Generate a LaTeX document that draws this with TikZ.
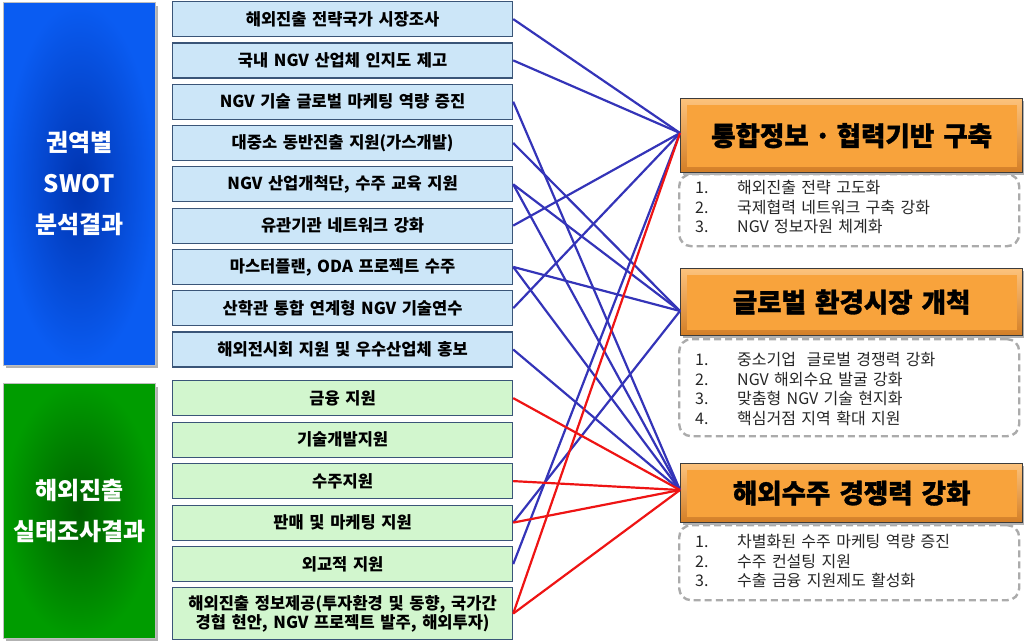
\documentclass[tikz,border=0pt]{standalone}
\usepackage{fontspec}
\setmainfont{Noto Sans CJK KR}[WordSpace=1.5]
\newfontfamily\titlefont{Noto Sans CJK KR}[WordSpace=1.5,BoldFeatures={FakeBold=1.2}]
\definecolor{midblue}{HTML}{CCE6F8}
\definecolor{midgreen}{HTML}{D2F6CE}
\definecolor{midborder}{HTML}{3A5578}
\definecolor{lineblue}{HTML}{3434B8}
\definecolor{linered}{HTML}{EE1414}
\definecolor{orangefill}{HTML}{F8A33C}
\definecolor{orangelight}{HTML}{FCC27C}
\definecolor{orangedark}{HTML}{D37E26}
\definecolor{orangeborder}{HTML}{3C3C3C}
\definecolor{bluehi}{HTML}{0A5CF2}
\definecolor{bluelo}{HTML}{0034B0}
\definecolor{greenhi}{HTML}{009C00}
\definecolor{greenlo}{HTML}{005F00}
\definecolor{dashgray}{HTML}{ABABAB}
\tikzset{
  midbox/.style={draw=midborder, line width=1.2pt, minimum width=340pt, minimum height=35pt,
    inner sep=0pt, anchor=north west, align=center, text=black,
    font=\bfseries\fontsize{16.5}{19}\selectfont},
  bluebox/.style={midbox, fill=midblue},
  greenbox/.style={midbox, fill=midgreen},
  sidebox/.style={shade, shading=radial, draw=black!25, line width=0.6pt, minimum width=152pt,
    inner sep=0pt, anchor=north west, align=center, text=white,
    font=\bfseries\fontsize{24}{41}\selectfont},
  orangebox/.style={shade, top color=orangelight, bottom color=orangedark, draw=orangeborder,
    line width=1.3pt, minimum width=342pt, inner sep=0pt, anchor=north west,
    font=\titlefont\bfseries\fontsize{26.5}{30}\selectfont, text=black,
    path picture={\fill[orangefill] ([shift={(6,6)}]path picture bounding box.north west)
      rectangle ([shift={(-6,-6)}]path picture bounding box.south east);}},
  dashbox/.style={draw=dashgray, line width=2.4pt, dash pattern=on 7pt off 4pt,
    rounded corners=12pt, minimum width=340pt, inner sep=0pt, anchor=north west},
  listtext/.style={anchor=north west, inner sep=0pt, text=black!85,
    font=\fontsize{16}{19.5}\selectfont},
  shadowfill/.style={fill=black!30},
  blueline/.style={draw=lineblue, line width=2.2pt},
  redline/.style={draw=linered, line width=2.2pt}
}
\begin{document}
\begin{tikzpicture}[x=1pt,y=-1pt]
\useasboundingbox (0,0) rectangle (1024,643);
% side boxes
\fill[shadowfill] (6,6) rectangle (158,368);
\fill[shadowfill] (6,387) rectangle (158,641);
\node[sidebox, inner color=bluelo, outer color=bluehi, minimum height=363pt] (sb) at (3,2)
  {권역별\\SWOT\\분석결과};
\node[sidebox, inner color=greenlo, outer color=greenhi, minimum height=255pt] (sg) at (3,383)
  {해외진출\\실태조사결과};
% middle boxes
\node[bluebox] (m1) at (172,1) {해외진출 전략국가 시장조사};
\node[bluebox] (m2) at (172,42.3) {국내 NGV 산업체 인지도 제고};
\node[bluebox] (m3) at (172,83.6) {NGV 기술 글로벌 마케팅 역량 증진};
\node[bluebox] (m4) at (172,124.9) {대중소 동반진출 지원(가스개발)};
\node[bluebox] (m5) at (172,166.2) {NGV 산업개척단, 수주 교육 지원};
\node[bluebox] (m6) at (172,207.5) {유관기관 네트워크 강화};
\node[bluebox] (m7) at (172,248.8) {마스터플랜, ODA 프로젝트 수주};
\node[bluebox] (m8) at (172,290.1) {산학관 통합 연계형 NGV 기술연수};
\node[bluebox] (m9) at (172,331.4) {해외전시회 지원 및 우수산업체 홍보};
\node[greenbox] (m10) at (172,380) {금융 지원};
\node[greenbox] (m11) at (172,421.5) {기술개발지원};
\node[greenbox] (m12) at (172,463) {수주지원};
\node[greenbox] (m13) at (172,504.5) {판매 및 마케팅 지원};
\node[greenbox] (m14) at (172,546) {외교적 지원};
\node[greenbox, minimum height=52pt] (m15) at (172,587)
  {해외진출 정보제공(투자환경 및 동향, 국가간\\경협 현안, NGV 프로젝트 발주, 해외투자)};
% dashed boxes
\node[dashbox, minimum height=72pt] (d1) at (678,173) {};
\node[dashbox, minimum height=97pt] (d2) at (678,338) {};
\node[dashbox, minimum height=75pt] (d3) at (678,524) {};
% orange boxes
\fill[shadowfill] (683,101) rectangle (1024,175);
\fill[shadowfill] (683,271) rectangle (1024,338);
\fill[shadowfill] (683,466) rectangle (1024,525);
\node[orangebox, minimum height=74pt] (o1) at (680,98)
  {통합정보\hspace{8pt}\makebox[12pt]{·}\hspace{8pt}협력기반 구축};
\node[orangebox, minimum height=67pt] (o2) at (680,268) {글로벌 환경시장 개척};
\node[orangebox, minimum height=59pt] (o3) at (680,463) {해외수주 경쟁력 강화};
% list texts
\node[listtext] (l1) at (695,180) {\begin{tabular}{@{}p{42pt}@{}l@{}}
1. & 해외진출 전략 고도화\\ 2. & 국제협력 네트워크 구축 강화\\ 3. & NGV 정보자원 체계화\end{tabular}};
\node[listtext] (l2) at (695,352) {\begin{tabular}{@{}p{42pt}@{}l@{}}
1. & 중소기업\ \ 글로벌 경쟁력 강화\\ 2. & NGV 해외수요 발굴 강화\\ 3. & 맞춤형 NGV 기술 현지화\\ 4. & 핵심거점 지역 확대 지원\end{tabular}};
\node[listtext] (l3) at (695,534) {\begin{tabular}{@{}p{42pt}@{}l@{}}
1. & 차별화된 수주 마케팅 역량 증진\\ 2. & 수주 컨설팅 지원\\ 3. & 수출 금융 지원제도 활성화\end{tabular}};
% connector targets
\coordinate (t1) at (680,133);
\coordinate (t2) at (680,311);
\coordinate (t3) at (680,490);
% blue connectors
\foreach \m in {m1,m2,m6,m8,m14} \draw[blueline] (\m.east) -- (t1);
\foreach \m in {m4,m5,m7,m13} \draw[blueline] (\m.east) -- (t2);
\foreach \m in {m3,m5,m7,m9} \draw[blueline] (\m.east) -- (t3);
% red connectors
\foreach \m in {m10,m12,m13,m15} \draw[redline] (\m.east) -- (t3);
\draw[redline] (m15.east) -- (t1);
\end{tikzpicture}
\end{document}
